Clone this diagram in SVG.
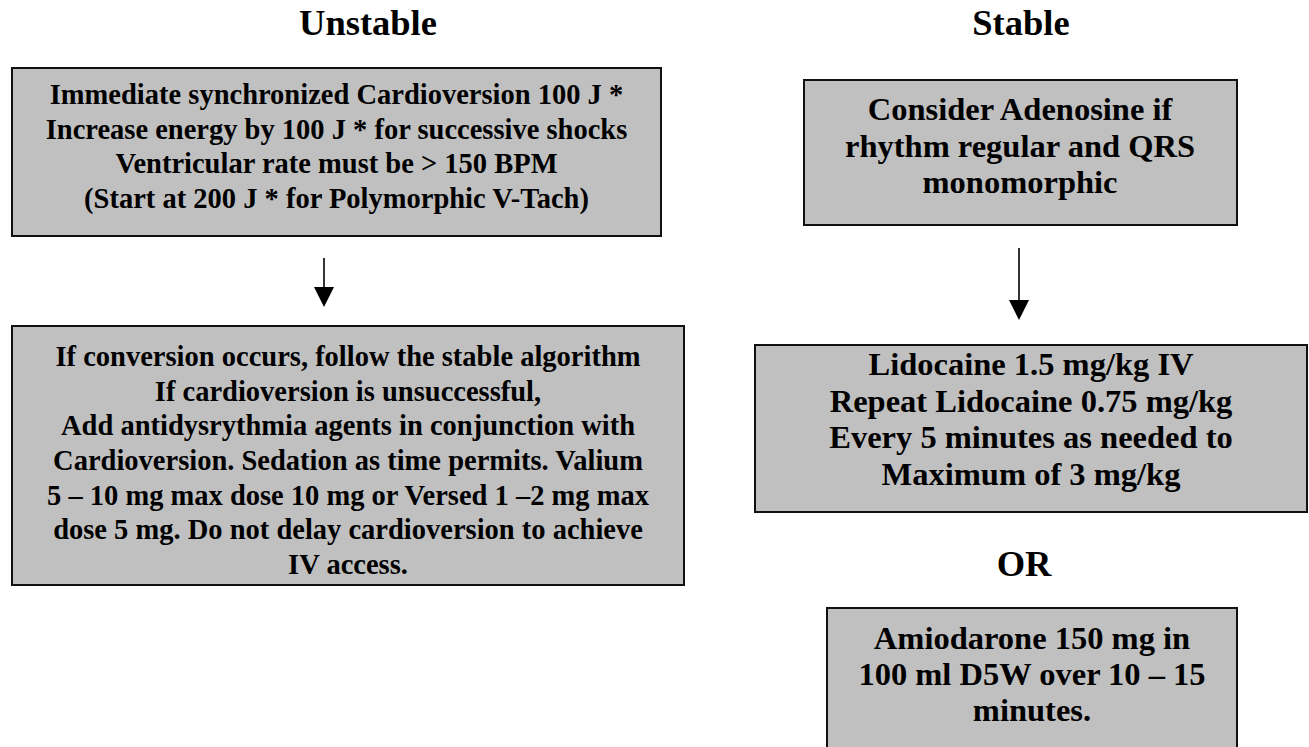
<svg xmlns="http://www.w3.org/2000/svg" width="1309" height="747" viewBox="0 0 1309 747">
  <style>
    .box { fill: #c0c0c0; stroke: #111; stroke-width: 2; }
    .t { font-family: "Liberation Serif", "Times New Roman", serif; font-weight: bold; fill: #000; text-anchor: middle; }
    .title { font-size: 36.5px; }
    .sm { font-size: 28.5px; }
    .lg { font-size: 32.5px; }
    .conn { stroke: #000; stroke-width: 1.6; fill: none; }
  </style>
  <defs>
    <marker id="arrow" markerUnits="userSpaceOnUse" markerWidth="20" markerHeight="20" refX="18" refY="10" orient="auto" viewBox="0 0 20 20">
      <path d="M0,0 L20,10 L0,20 z" fill="#000"/>
    </marker>
  </defs>
  <rect width="1309" height="747" fill="#fff"/>

  <g id="title-unstable">
    <text class="t title" x="368" y="35">Unstable</text>
  </g>
  <g id="title-stable">
    <text class="t title" x="1021" y="35">Stable</text>
  </g>

  <g id="node-cardioversion">
    <rect class="box" x="12" y="68" width="649" height="168"/>
    <text class="t sm" x="336.5" y="104">Immediate synchronized Cardioversion 100 J *</text>
    <text class="t sm" x="336.5" y="138.5">Increase energy by 100 J * for successive shocks</text>
    <text class="t sm" x="336.5" y="173">Ventricular rate must be &gt; 150 BPM</text>
    <text class="t sm" x="336.5" y="207.5">(Start at 200 J * for Polymorphic V-Tach)</text>
  </g>

  <g id="node-unsuccessful">
    <rect class="box" x="12" y="326" width="672" height="259"/>
    <text class="t sm" x="348" y="366">If conversion occurs, follow the stable algorithm</text>
    <text class="t sm" x="348" y="400.5">If cardioversion is unsuccessful,</text>
    <text class="t sm" x="348" y="435">Add antidysrythmia agents in conjunction with</text>
    <text class="t sm" x="348" y="469.5">Cardioversion. Sedation as time permits. Valium</text>
    <text class="t sm" x="348" y="504.5">5 – 10 mg max dose 10 mg or Versed 1 –2 mg max</text>
    <text class="t sm" x="348" y="539">dose 5 mg. Do not delay cardioversion to achieve</text>
    <text class="t sm" x="348" y="573.5">IV access.</text>
  </g>

  <g id="node-adenosine">
    <rect class="box" x="804" y="80" width="433" height="145"/>
    <text class="t lg" x="1020" y="120">Consider Adenosine if</text>
    <text class="t lg" x="1020" y="157">rhythm regular and QRS</text>
    <text class="t lg" x="1020" y="193">monomorphic</text>
  </g>

  <g id="node-lidocaine">
    <rect class="box" x="755" y="345" width="552" height="167"/>
    <text class="t lg" x="1031" y="375">Lidocaine 1.5 mg/kg IV</text>
    <text class="t lg" x="1031" y="412">Repeat Lidocaine 0.75 mg/kg</text>
    <text class="t lg" x="1031" y="448">Every 5 minutes as needed to</text>
    <text class="t lg" x="1031" y="485">Maximum of 3 mg/kg</text>
  </g>

  <g id="label-or">
    <text class="t title" x="1024" y="576">OR</text>
  </g>

  <g id="node-amiodarone">
    <rect class="box" x="827" y="608" width="410" height="160"/>
    <text class="t lg" x="1032" y="649">Amiodarone 150 mg in</text>
    <text class="t lg" x="1032" y="685">100 ml D5W over 10 – 15</text>
    <text class="t lg" x="1032" y="721">minutes.</text>
  </g>

  <g id="connectors">
    <line class="conn" x1="324" y1="258" x2="324" y2="305" marker-end="url(#arrow)"/>
    <line class="conn" x1="1019" y1="248" x2="1019" y2="318" marker-end="url(#arrow)"/>
  </g>
</svg>
